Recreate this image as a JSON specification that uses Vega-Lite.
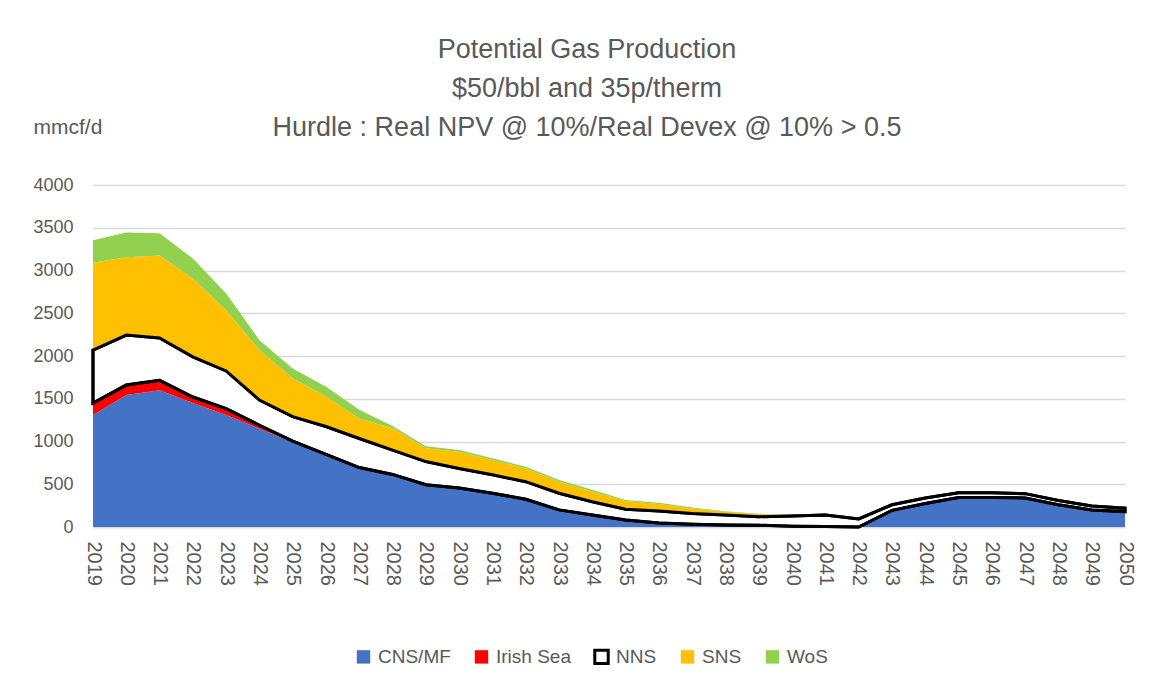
{
  "$schema": "https://vega.github.io/schema/vega-lite/v6.json",
  "width": 1032,
  "height": 342,
  "autosize": {"type": "none"},
  "padding": {"left": 93, "top": 185, "right": 32, "bottom": 161},
  "background": "white",
  "config": {"font": "Liberation Sans", "view": {"stroke": null}},
  "title": {
    "text": ["Potential Gas Production", "$50/bbl and 35p/therm", "Hurdle : Real NPV @ 10%/Real Devex @ 10% > 0.5"],
    "fontSize": 27,
    "fontWeight": "normal",
    "color": "#595959",
    "anchor": "middle",
    "lineHeight": 39,
    "dx": -22,
    "dy": 26,
    "offset": 0
  },
  "data": {
    "values": [
      {"year": 2019, "CNS/MF": 1310, "Irish Sea": 140, "NNS": 620, "SNS": 1020, "WoS": 265},
      {"year": 2020, "CNS/MF": 1545, "Irish Sea": 115, "NNS": 585, "SNS": 910, "WoS": 290},
      {"year": 2021, "CNS/MF": 1600, "Irish Sea": 115, "NNS": 495, "SNS": 965, "WoS": 260},
      {"year": 2022, "CNS/MF": 1450, "Irish Sea": 70, "NNS": 470, "SNS": 915, "WoS": 235},
      {"year": 2023, "CNS/MF": 1310, "Irish Sea": 75, "NNS": 440, "SNS": 710, "WoS": 195},
      {"year": 2024, "CNS/MF": 1150, "Irish Sea": 40, "NNS": 295, "SNS": 585, "WoS": 115},
      {"year": 2025, "CNS/MF": 990, "Irish Sea": 15, "NNS": 285, "SNS": 450, "WoS": 115},
      {"year": 2026, "CNS/MF": 840, "Irish Sea": 10, "NNS": 325, "SNS": 350, "WoS": 115},
      {"year": 2027, "CNS/MF": 690, "Irish Sea": 5, "NNS": 340, "SNS": 235, "WoS": 100},
      {"year": 2028, "CNS/MF": 610, "Irish Sea": 5, "NNS": 285, "SNS": 255, "WoS": 25},
      {"year": 2029, "CNS/MF": 490, "Irish Sea": 5, "NNS": 270, "SNS": 155, "WoS": 25},
      {"year": 2030, "CNS/MF": 450, "Irish Sea": 5, "NNS": 230, "SNS": 195, "WoS": 20},
      {"year": 2031, "CNS/MF": 390, "Irish Sea": 5, "NNS": 215, "SNS": 175, "WoS": 20},
      {"year": 2032, "CNS/MF": 320, "Irish Sea": 5, "NNS": 205, "SNS": 155, "WoS": 20},
      {"year": 2033, "CNS/MF": 195, "Irish Sea": 5, "NNS": 195, "SNS": 135, "WoS": 20},
      {"year": 2034, "CNS/MF": 135, "Irish Sea": 5, "NNS": 155, "SNS": 120, "WoS": 20},
      {"year": 2035, "CNS/MF": 80, "Irish Sea": 3, "NNS": 125, "SNS": 95, "WoS": 12},
      {"year": 2036, "CNS/MF": 45, "Irish Sea": 3, "NNS": 140, "SNS": 80, "WoS": 15},
      {"year": 2037, "CNS/MF": 30, "Irish Sea": 2, "NNS": 125, "SNS": 60, "WoS": 12},
      {"year": 2038, "CNS/MF": 22, "Irish Sea": 2, "NNS": 115, "SNS": 40, "WoS": 6},
      {"year": 2039, "CNS/MF": 18, "Irish Sea": 2, "NNS": 100, "SNS": 30, "WoS": 6},
      {"year": 2040, "CNS/MF": 10, "Irish Sea": 0, "NNS": 120, "SNS": 10, "WoS": 3},
      {"year": 2041, "CNS/MF": 5, "Irish Sea": 0, "NNS": 135, "SNS": 8, "WoS": 2},
      {"year": 2042, "CNS/MF": 0, "Irish Sea": 0, "NNS": 95, "SNS": 5, "WoS": 2},
      {"year": 2043, "CNS/MF": 195, "Irish Sea": 0, "NNS": 65, "SNS": 3, "WoS": 2},
      {"year": 2044, "CNS/MF": 275, "Irish Sea": 0, "NNS": 65, "SNS": 2, "WoS": 2},
      {"year": 2045, "CNS/MF": 345, "Irish Sea": 0, "NNS": 55, "SNS": 0, "WoS": 2},
      {"year": 2046, "CNS/MF": 345, "Irish Sea": 0, "NNS": 55, "SNS": 0, "WoS": 2},
      {"year": 2047, "CNS/MF": 340, "Irish Sea": 0, "NNS": 50, "SNS": 0, "WoS": 3},
      {"year": 2048, "CNS/MF": 260, "Irish Sea": 0, "NNS": 50, "SNS": 0, "WoS": 5},
      {"year": 2049, "CNS/MF": 200, "Irish Sea": 0, "NNS": 45, "SNS": 0, "WoS": 10},
      {"year": 2050, "CNS/MF": 180, "Irish Sea": 0, "NNS": 40, "SNS": 0, "WoS": 15}
    ]
  },
  "transform": [{"fold": ["CNS/MF", "Irish Sea", "NNS", "SNS", "WoS"], "as": ["series", "value"]}],
  "encoding": {
    "x": {
      "field": "year", "type": "ordinal",
      "scale": {"type": "point", "padding": 0},
      "axis": {"title": null, "labelAngle": 90, "labelFontSize": 20, "labelColor": "#595959", "labelPadding": 14, "ticks": false, "grid": false, "domain": true, "domainColor": "#d9d9d9", "domainWidth": 1.5}
    },
    "y": {
      "field": "value", "type": "quantitative", "stack": "zero",
      "scale": {"domain": [0, 4000], "nice": false},
      "axis": {"title": "mmcf/d", "titleAngle": 0, "titleX": -60, "titleY": -58, "titleAlign": "left", "titleBaseline": "middle", "titleFontSize": 21, "titleFontWeight": "normal", "titleColor": "#595959", "values": [0, 500, 1000, 1500, 2000, 2500, 3000, 3500, 4000], "format": "d", "grid": true, "gridColor": "#d9d9d9", "gridWidth": 1.5, "domain": false, "ticks": false, "labelPadding": 20, "labelFontSize": 18, "labelColor": "#595959"}
    },
    "order": {"field": "series", "type": "nominal", "sort": "ascending"}
  },
  "layer": [
    {
      "mark": {"type": "area", "strokeWidth": 3},
      "encoding": {
        "fill": {
          "field": "series", "type": "nominal",
          "scale": {"domain": ["CNS/MF", "Irish Sea", "NNS", "SNS", "WoS"], "range": ["#4472C4", "#FF0000", "#FFFFFF", "#FFC000", "#92D050"]},
          "legend": {"title": null, "orient": "none", "legendX": 261, "legendY": 462, "direction": "horizontal", "symbolType": "square", "symbolSize": 180, "symbolStrokeWidth": 3, "labelFontSize": 19, "labelColor": "#595959", "columnPadding": 17, "labelOffset": 5}
        },
        "stroke": {
          "field": "series", "type": "nominal",
          "scale": {"domain": ["CNS/MF", "Irish Sea", "NNS", "SNS", "WoS"], "range": ["transparent", "transparent", "#000000", "transparent", "transparent"]},
          "legend": {"title": null, "orient": "none", "legendX": 261, "legendY": 462, "direction": "horizontal", "symbolType": "square", "symbolSize": 180, "symbolStrokeWidth": 3, "labelFontSize": 19, "labelColor": "#595959", "columnPadding": 17, "labelOffset": 5}
        }
      }
    },
    {
      "mark": {"type": "area", "fillOpacity": 0, "strokeWidth": 3},
      "encoding": {
        "detail": {"field": "series", "type": "nominal"},
        "stroke": {"condition": {"test": "datum.series === 'NNS'", "value": "#000000"}, "value": "transparent"}
      }
    }
  ]
}
